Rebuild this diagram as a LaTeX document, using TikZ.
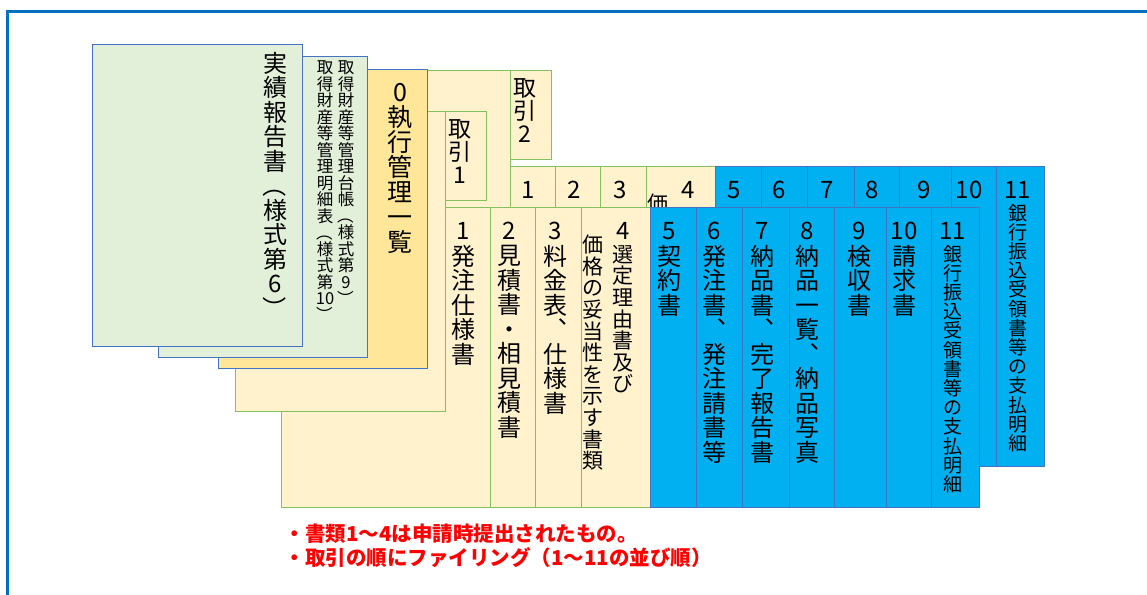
\documentclass[tikz,border=0pt]{standalone}
\usepackage{fontspec}
\setmainfont{Noto Sans CJK JP}
\usepackage{xcolor}
\usepackage{graphicx}

\definecolor{moldura}{HTML}{0070C0}
\definecolor{corVerde}{HTML}{E2F0D9}
\definecolor{corOuro}{HTML}{FFE699}
\definecolor{corCreme}{HTML}{FFF2CC}
\definecolor{corAzul}{HTML}{00B0F0}
\definecolor{bordaAzul}{HTML}{4472C4}
\definecolor{bordaVerde}{HTML}{86BF5F}

% texto vertical: um caractere por linha
\ExplSyntaxOn
\NewDocumentCommand \tate { m }
  {
    \tl_set:No \l_tmpa_tl {#1}
    \seq_clear:N \l_tmpa_seq
    \tl_map_inline:Nn \l_tmpa_tl { \seq_put_right:Nn \l_tmpa_seq {##1} }
    \seq_use:Nn \l_tmpa_seq { \\ }
  }
\ExplSyntaxOff

% parentese girado para texto vertical
\newcommand{\girar}[1]{\raisebox{0.88em}[0.88em][0.12em]{\rotatebox{-90}{#1}}}

% pasta com documentos 1 a 11 (#1 = prefixo, #2 = numero do tab)
\newcommand{\pasta}[2]{%
  % documentos 1-4
  \filldraw[creme] (281,207) rectangle (490,507);
  \filldraw[creme] (490,207) rectangle (535,507);
  \filldraw[creme] (535,207) rectangle (581,507);
  \filldraw[creme] (581,207) rectangle (650,507);
  % documentos 5-11
  \foreach \a/\b in {650/696,696/742,742/789,789/834,834/886,886/931,931/979}
    \filldraw[azul] (\a,207) rectangle (\b,507);
  % numeros
  \foreach \n/\x in {1/463,2/509,3/555,4/623,5/669,6/714,7/762.5,8/807.5,9/859,10/904,11/952.5}
    \node[numero] (#1n\n) at (\x,231) {\n};
  % corpo e tab
  \filldraw[creme] (235,111) rectangle (445,411);
  \filldraw[creme] (445,111) rectangle (486,200);
  \node[coluna,font=\fontsize{23}{23}\selectfont] (#1tab) at (460,119) {\tate{取引#2}};
}

\begin{document}
\begin{tikzpicture}[x=1pt,y=-1pt,
  verde/.style={fill=corVerde,draw=bordaAzul,line width=1pt},
  ouro/.style={fill=corOuro,draw=bordaAzul,line width=1pt},
  creme/.style={fill=corCreme,draw=bordaVerde,line width=1pt},
  azul/.style={fill=corAzul,draw=bordaAzul,line width=0.8pt},
  coluna/.style={align=center,inner sep=0pt,anchor=north,font=\fontsize{24}{24.5}\selectfont},
  numero/.style={inner sep=0pt,font=\fontsize{24}{24}\selectfont},
  pequeno/.style={font=\fontsize{21}{21.6}\selectfont},
  minimo/.style={font=\fontsize{19}{19.2}\selectfont},
  nota/.style={anchor=base west,inner sep=0pt,text=red,font=\fontsize{20.5}{20.5}\selectfont\bfseries}]

\useasboundingbox (0,0) rectangle (1147,594);

% Moldura
\draw[moldura,line width=2.5pt] (7.5,600) -- (7.5,11.5) -- (1150,11.5);

% Pasta de tras (取引2)
\begin{scope}[shift={(65,-41)}]
  \pasta{b}{2}
  \begin{scope}
    \clip (570,150) rectangle (640,248);
    \node[coluna,pequeno] (bt4b) at (593,235) {価};
  \end{scope}
  \node[coluna,minimo] (bt11) at (952.5,245) {\tate{銀行振込受領書等の支払明細}};
\end{scope}

% Pasta da frente (取引1)
\pasta{f}{1}
\foreach \n/\x/\rotulo in {1/463/発注仕様書,2/509/見積書・相見積書,3/555/料金表︑仕様書,
    5/669/契約書,6/714/発注書︑発注請書等,7/762.5/納品書︑完了報告書,
    8/807.5/納品一覧︑納品写真,9/859/検収書,10/904/請求書}
  \node[coluna] (ft\n) at (\x,245) {\tate{\rotulo}};
\node[coluna,pequeno] (ft4a) at (622.5,245) {\tate{選定理由書及び}};
\node[coluna,pequeno] (ft4b) at (593,235) {\tate{価格の妥当性を示す書類}};
\node[coluna,minimo] (ft11) at (952.5,245) {\tate{銀行振込受領書等の支払明細}};

% Lista de execucao
\filldraw[ouro] (218,69) rectangle (427,368);
\node[coluna,font=\fontsize{25}{25}\selectfont] (lista) at (400,83) {\tate{0執行管理一覧}};

% Livros de bens
\filldraw[verde] (158,57) rectangle (367,357);
\node[coluna,font=\fontsize{16.5}{16.5}\selectfont] (livro) at (346,60.5)
  {\tate{取得財産等管理台帳{\girar{（}}様式第9{\girar{）}}}};
\node[coluna,font=\fontsize{16.5}{16.5}\selectfont] (detalhe) at (325,60.5)
  {\tate{取得財産等管理明細表{\girar{（}}様式第{10}{\girar{）}}}};

% Relatorio
\filldraw[verde] (92,45) rectangle (302,346);
\node[coluna] (relatorio) at (275,52) {\tate{実績報告書{\girar{（}}様式第6{\girar{）}}}};

% Notas
\node[nota] (nota1) at (284.5,541) {・書類1～4は申請時提出されたもの。};
\node[nota] (nota2) at (284.5,565) {・取引の順にファイリング（1～11の並び順）};

\end{tikzpicture}
\end{document}
